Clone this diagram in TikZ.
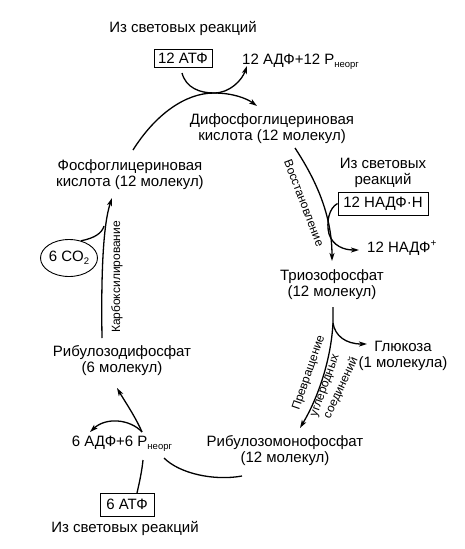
\documentclass[tikz,border=0pt]{standalone}
\usepackage{fontspec}
\setmainfont{Liberation Sans}
\usetikzlibrary{arrows.meta,shapes.geometric}
\newcommand{\lowsub}[1]{\raisebox{-0.4ex}{\fontsize{9.5}{9.5}\selectfont #1}}
\newcommand{\upsup}[1]{\raisebox{0.75ex}{\fontsize{10}{10}\selectfont #1}}
\begin{document}
\begin{tikzpicture}[x=1pt,y=-1pt,
  lbl/.style={font=\fontsize{15}{16}\selectfont, align=center, inner sep=0pt},
  small/.style={font=\fontsize{12}{13}\selectfont, inner sep=0pt},
  boxed/.style={draw, line width=0.9pt, font=\fontsize{15}{16}\selectfont, inner sep=0pt},
  flow/.style={line width=1.3pt, -{Stealth[length=8pt,width=5pt,inset=2pt]}},
  plain/.style={line width=1.3pt}]
\useasboundingbox (0,0) rectangle (465,549);
% texts
\node[lbl] (src1) at (183,28) {Из световых реакций};
\node[boxed, minimum width=58pt, minimum height=18pt] (atp12) at (183,58) {12 АТФ};
\node[lbl, anchor=west] (adp12) at (242,62) {12 АДФ+12 Р\lowsub{неорг}};
\node[lbl] (dpga) at (272,129) {Дифосфоглицериновая\\кислота (12 молекул)};
\node[lbl] (pga) at (130,175) {Фосфоглицериновая\\кислота (12 молекул)};
\node[lbl] (src2) at (383,173) {Из световых\\реакций};
\node[boxed, minimum width=90pt, minimum height=23pt] (nadph) at (383,203.5) {12 НАДФ·Н};
\node[lbl, anchor=west] (nadp) at (367,248) {12 НАДФ\upsup{+}};
\node[lbl] (triose) at (332,285) {Триозофосфат\\(12 молекул)};
\node[lbl] (gluc) at (403,356) {Глюкоза\\(1 молекула)};
\node[lbl] (rmp) at (285,451) {Рибулозомонофосфат\\(12 молекул)};
\node[lbl] (rdp) at (122,361) {Рибулозодифосфат\\(6 молекул)};
\node[lbl] (adp6) at (122,444) {6 АДФ+6 Р\lowsub{неорг}};
\node[boxed, minimum width=54pt, minimum height=23pt] (atp6) at (127,504.5) {6 АТФ};
\node[lbl] (src3) at (125,528) {Из световых реакций};
\node[ellipse, draw, line width=0.9pt, minimum width=52pt, minimum height=37pt, inner sep=0pt, font=\fontsize{15}{16}\selectfont] (co2) at (69,258) {6 CO\lowsub{2}};
\node[small, rotate=90] (carb) at (117,277) {Карбоксилирование};
\node[small, rotate=-69] (restore) at (304,203) {Восстановление};
\node[small, rotate=71] (conv1) at (309,373) {Превращение};
\node[small, rotate=70] (conv2) at (326,386) {углеродных};
\node[small, rotate=65] (conv3) at (341,388) {соединений};
% coordinates
\coordinate (t0) at (133,150);
\coordinate (tm) at (214,93);
\coordinate (t1) at (257,106);
\coordinate (a0) at (182,73);
\coordinate (a1) at (247,66);
\coordinate (r0) at (295,148);
\coordinate (r1) at (332,261);
\coordinate (n1) at (359,250);
\coordinate (tr0) at (333,307);
\coordinate (tr1) at (333,323);
\coordinate (tr2) at (300,428);
\coordinate (g1) at (367,344);
\coordinate (m0) at (242,476);
\coordinate (m1) at (164,458);
\coordinate (b0) at (137,493);
\coordinate (b1) at (143,460);
\coordinate (u0) at (142,432);
\coordinate (u1) at (117,388);
\coordinate (u2) at (90,432);
\coordinate (c0) at (102,338);
\coordinate (c1) at (112,198);
\coordinate (cj) at (104,226);
% connectors
\draw[flow] (t0) .. controls (155,115) and (185,93) .. (tm) .. controls (232,93) and (246,98) .. (t1);
\draw[flow] (a0) .. controls (186,88) and (200,93) .. (tm) .. controls (230,93) and (242,80) .. (a1);
\draw[flow] (r0) .. controls (316,180) and (332,215) .. (r1);
\draw[flow] (nadph.west) .. controls (329,208) and (326,222) .. (329,234) .. controls (333,246) and (344,250) .. (n1);
\draw[flow] (tr0) -- (tr1) .. controls (331,360) and (318,398) .. (tr2);
\draw[flow] (tr1) .. controls (335,336) and (346,344) .. (g1);
\draw[plain] (m0) .. controls (215,481) and (180,474) .. (m1);
\draw[plain] (b0) .. controls (140,480) and (142,470) .. (b1);
\draw[flow] (u0) .. controls (135,416) and (124,400) .. (u1);
\draw[flow] (u0) .. controls (130,419) and (106,417) .. (u2);
\draw[flow] (c0) .. controls (101,275) and (103,225) .. (c1);
\draw[plain] (co2.55) .. controls (95,238) and (102,233) .. (cj);
\end{tikzpicture}
\end{document}
